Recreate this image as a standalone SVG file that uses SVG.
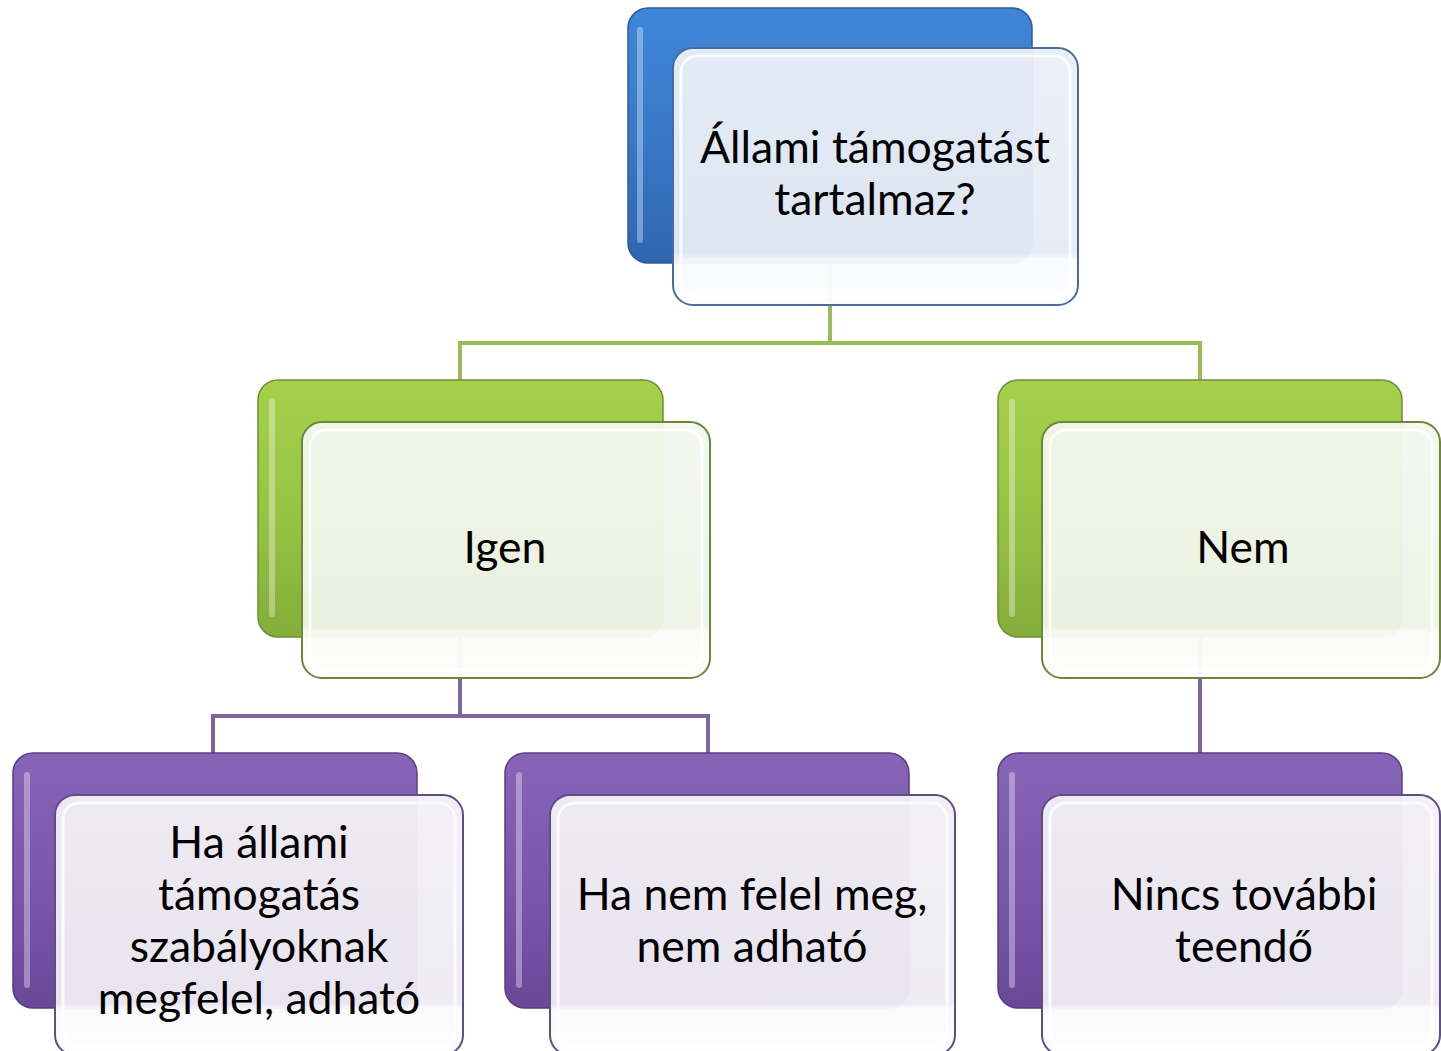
<svg xmlns="http://www.w3.org/2000/svg" width="1441" height="1051" viewBox="0 0 1441 1051">
<defs>
<linearGradient id="gBlue" x1="0" y1="0" x2="0" y2="1"><stop offset="0" stop-color="#3f86d8"/><stop offset="0.5" stop-color="#3a78c8"/><stop offset="1" stop-color="#2f66b0"/></linearGradient>
<linearGradient id="gGreen" x1="0" y1="0" x2="0" y2="1"><stop offset="0" stop-color="#a4d04c"/><stop offset="0.5" stop-color="#98c444"/><stop offset="1" stop-color="#84ad3a"/></linearGradient>
<linearGradient id="gPurple" x1="0" y1="0" x2="0" y2="1"><stop offset="0" stop-color="#8864b8"/><stop offset="0.5" stop-color="#7c58ac"/><stop offset="1" stop-color="#6a4898"/></linearGradient>
<linearGradient id="fBlue" x1="0" y1="0" x2="0" y2="1"><stop offset="0" stop-color="#eaeff8"/><stop offset="0.8" stop-color="#e5ebf4"/><stop offset="0.82" stop-color="#f8fafc"/><stop offset="1" stop-color="#fdfdfe"/></linearGradient>
<linearGradient id="fGreen" x1="0" y1="0" x2="0" y2="1"><stop offset="0" stop-color="#f4f7ee"/><stop offset="0.8" stop-color="#eff3e7"/><stop offset="0.82" stop-color="#fafbf7"/><stop offset="1" stop-color="#fdfefc"/></linearGradient>
<linearGradient id="fPurple" x1="0" y1="0" x2="0" y2="1"><stop offset="0" stop-color="#f2f0f6"/><stop offset="0.8" stop-color="#eeebf3"/><stop offset="0.82" stop-color="#fafafc"/><stop offset="1" stop-color="#fdfdfe"/></linearGradient>
</defs>
<style>
text{font-family:Lato,"Liberation Sans",sans-serif;font-size:44.5px;fill:#000;text-anchor:middle}
.back{stroke-width:1.5}
.bb{fill:url(#gBlue);stroke:#2c5c9c}
.bg{fill:url(#gGreen);stroke:#6f9030}
.bp{fill:url(#gPurple);stroke:#5a3c84}
.hl{fill:none;stroke:#ffffff;stroke-opacity:0.35;stroke-width:6;stroke-linecap:round}
.front{stroke-width:2;fill-opacity:0.96}
.fb{fill:url(#fBlue);stroke:#4a6c9c}
.fg{fill:url(#fGreen);stroke:#6a8838}
.fp{fill:url(#fPurple);stroke:#5e4e82}
.inner{fill:none;stroke:#ffffff;stroke-width:3;stroke-opacity:0.8}
.cg{fill:none;stroke:#9bbb59;stroke-width:4}
.cp{fill:none;stroke:#8064a2;stroke-width:4}
</style>
<g id="connectors">
<path class="cg" d="M830 262 V343 H460 V380 M830 343 H1200 V380"/>
<path class="cp" d="M460 637 V716 H213 V753 M460 716 H708 V753"/>
<path class="cp" d="M1200 637 V753"/>
</g>
<g id="node-top">
<rect class="back bb" x="628" y="8" width="404" height="255" rx="20"/>
<path class="hl" d="M640 30 V240"/>
<rect class="front fb" x="673" y="48" width="405" height="257" rx="20"/>
<rect class="inner" x="681" y="56" width="389" height="241" rx="16"/>
<text x="875" y="163">Állami támogatást</text>
<text x="875" y="215">tartalmaz?</text>
</g>
<g id="node-igen">
<rect class="back bg" x="258" y="380" width="405" height="257" rx="20"/>
<path class="hl" d="M272 402 V614"/>
<rect class="front fg" x="302" y="422" width="408" height="256" rx="20"/>
<rect class="inner" x="310" y="430" width="392" height="240" rx="16"/>
<text x="505" y="563">Igen</text>
</g>
<g id="node-nem">
<rect class="back bg" x="998" y="380" width="404" height="257" rx="20"/>
<path class="hl" d="M1012 402 V614"/>
<rect class="front fg" x="1042" y="422" width="398" height="256" rx="20"/>
<rect class="inner" x="1050" y="430" width="382" height="240" rx="16"/>
<text x="1243" y="563">Nem</text>
</g>
<g id="node-ha-allami">
<rect class="back bp" x="13" y="753" width="404" height="255" rx="20"/>
<path class="hl" d="M27 775 V985"/>
<rect class="front fp" x="55" y="795" width="408" height="260" rx="20"/>
<rect class="inner" x="63" y="803" width="392" height="244" rx="16"/>
<text x="259" y="858">Ha állami</text>
<text x="259" y="910">támogatás</text>
<text x="259" y="962">szabályoknak</text>
<text x="259" y="1014">megfelel, adható</text>
</g>
<g id="node-ha-nem">
<rect class="back bp" x="505" y="753" width="404" height="255" rx="20"/>
<path class="hl" d="M519 775 V985"/>
<rect class="front fp" x="550" y="795" width="405" height="260" rx="20"/>
<rect class="inner" x="558" y="803" width="389" height="244" rx="16"/>
<text x="752" y="910">Ha nem felel meg,</text>
<text x="752" y="962">nem adható</text>
</g>
<g id="node-nincs">
<rect class="back bp" x="998" y="753" width="404" height="255" rx="20"/>
<path class="hl" d="M1012 775 V985"/>
<rect class="front fp" x="1042" y="795" width="398" height="260" rx="20"/>
<rect class="inner" x="1050" y="803" width="382" height="244" rx="16"/>
<text x="1244" y="910">Nincs további</text>
<text x="1244" y="962">teendő</text>
</g>
</svg>
